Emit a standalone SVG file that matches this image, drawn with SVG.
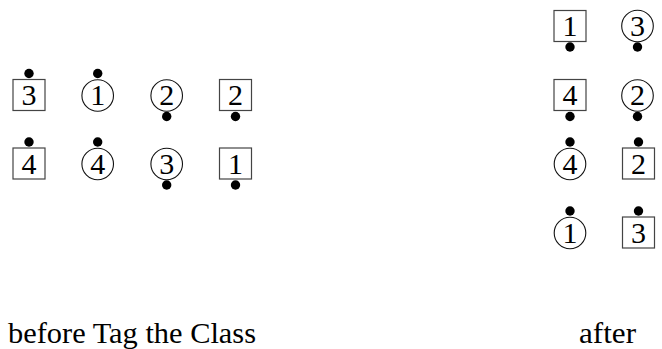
<svg xmlns="http://www.w3.org/2000/svg" width="662" height="349" viewBox="0 0 662 349">
<style>
.b{fill:none;stroke:#444;stroke-width:1.2}
.c{fill:none;stroke:#111;stroke-width:1.1}
.d{fill:#000}
.n{font-family:"Liberation Serif",serif;font-size:30px;text-anchor:middle;fill:#000}
.l{font-family:"Liberation Serif",serif;font-size:29px;fill:#000}
</style>
<rect width="662" height="349" fill="#fff"/>
<g id="L-box3"><rect class="b" x="13" y="79.5" width="32" height="31"/><text class="n" x="29" y="105">3</text><circle class="d" cx="29" cy="73.5" r="4.7"/></g>
<g id="L-circ1"><circle class="c" cx="97.7" cy="95.5" r="15.8"/><text class="n" x="97.7" y="105">1</text><circle class="d" cx="97.7" cy="73.5" r="4.7"/></g>
<g id="L-circ2"><circle class="c" cx="166.7" cy="95.5" r="15.8"/><text class="n" x="166.7" y="105">2</text><circle class="d" cx="166.7" cy="116.5" r="4.7"/></g>
<g id="L-box2"><rect class="b" x="219.5" y="79.5" width="32" height="31"/><text class="n" x="235.5" y="105">2</text><circle class="d" cx="235.5" cy="116.5" r="4.7"/></g>
<g id="L-box4"><rect class="b" x="13" y="148" width="32" height="31"/><text class="n" x="29" y="173.5">4</text><circle class="d" cx="29" cy="142" r="4.7"/></g>
<g id="L-circ4"><circle class="c" cx="97.7" cy="164" r="15.8"/><text class="n" x="97.7" y="173.5">4</text><circle class="d" cx="97.7" cy="142" r="4.7"/></g>
<g id="L-circ3"><circle class="c" cx="166.7" cy="164" r="15.8"/><text class="n" x="166.7" y="173.5">3</text><circle class="d" cx="166.7" cy="185" r="4.7"/></g>
<g id="L-box1"><rect class="b" x="219.5" y="148" width="32" height="31"/><text class="n" x="235.5" y="173.5">1</text><circle class="d" cx="235.5" cy="185" r="4.7"/></g>
<g id="R-box1"><rect class="b" x="554" y="10.5" width="32" height="31"/><text class="n" x="570" y="36">1</text><circle class="d" cx="570" cy="47" r="4.7"/></g>
<g id="R-circ3"><circle class="c" cx="637.5" cy="26" r="15.8"/><text class="n" x="637.5" y="36">3</text><circle class="d" cx="637.5" cy="47" r="4.7"/></g>
<g id="R-box4"><rect class="b" x="554" y="79.5" width="32" height="31"/><text class="n" x="570" y="105">4</text><circle class="d" cx="570" cy="116.5" r="4.7"/></g>
<g id="R-circ2"><circle class="c" cx="637.5" cy="95.5" r="15.8"/><text class="n" x="637.5" y="105">2</text><circle class="d" cx="637.5" cy="116.5" r="4.7"/></g>
<g id="R-circ4"><circle class="c" cx="570" cy="164" r="15.8"/><text class="n" x="570" y="173.5">4</text><circle class="d" cx="570" cy="142" r="4.7"/></g>
<g id="R-box2"><rect class="b" x="622.5" y="148" width="32" height="31"/><text class="n" x="638.5" y="173.5">2</text><circle class="d" cx="638.5" cy="142" r="4.7"/></g>
<g id="R-circ1"><circle class="c" cx="570" cy="233" r="15.8"/><text class="n" x="570" y="242.5">1</text><circle class="d" cx="570" cy="211" r="4.7"/></g>
<g id="R-box3"><rect class="b" x="622.5" y="217" width="32" height="31"/><text class="n" x="638.5" y="242.5">3</text><circle class="d" cx="638.5" cy="211" r="4.7"/></g>
<g id="connectors"/>
<text class="l" x="8" y="343" textLength="248" lengthAdjust="spacingAndGlyphs">before Tag the Class</text>
<text class="l" x="579" y="343" textLength="57" lengthAdjust="spacingAndGlyphs">after</text>
</svg>
